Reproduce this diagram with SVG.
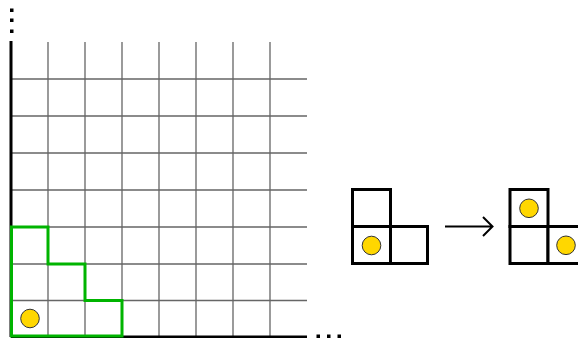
<svg xmlns="http://www.w3.org/2000/svg" width="578" height="338" viewBox="0 0 578 338">
<style>
.grid{stroke:#666;stroke-width:1.3;fill:none}
.axis{stroke:#000;stroke-width:3;fill:none}
.cell{stroke:#000;stroke-width:3;fill:#fff}
.coin{fill:#FFD700;stroke:#333;stroke-width:1}
.dot{fill:#000}
</style>
<rect width="578" height="338" fill="#fff"/>
<g id="grid">
<path class="grid" d="M48 42V337M85 42V337M122 42V337M159 42V337M196 42V337M233 42V337M270 42V337"/>
<path class="grid" d="M11 79H307M11 116H307M11 153H307M11 190H307M11 227H307M11 264H307M11 300.5H307"/>
<path class="axis" d="M11 41V337M11 337H307"/>
<rect class="dot" x="10" y="8.5" width="3.5" height="3.5"/>
<rect class="dot" x="10" y="18.5" width="3.5" height="3.5"/>
<rect class="dot" x="10" y="29.5" width="3.5" height="3.5"/>
<rect class="dot" x="316.5" y="334.5" width="3.5" height="3.5"/>
<rect class="dot" x="327" y="334.5" width="3.5" height="3.5"/>
<rect class="dot" x="337.5" y="334.5" width="3.5" height="3.5"/>
<path d="M11.5 227H48V264H85V300.5H122V336H11.5Z" fill="none" stroke="#00B400" stroke-width="3"/>
<circle class="coin" cx="30" cy="318.5" r="9.3"/>
</g>
<g id="left-shape">
<rect class="cell" x="352.5" y="189.5" width="38" height="37"/>
<rect class="cell" x="352.5" y="226.5" width="38" height="37"/>
<rect class="cell" x="390.5" y="226.5" width="37" height="37"/>
<circle class="coin" cx="371.5" cy="245.5" r="9.3"/>
</g>
<g id="connectors">
<path d="M445 226.5H492M483 217L492.5 226.5L483 236" fill="none" stroke="#000" stroke-width="2"/>
</g>
<g id="right-shape">
<rect class="cell" x="510" y="189.5" width="38" height="37"/>
<rect class="cell" x="510" y="226.5" width="38" height="37"/>
<rect class="cell" x="548" y="226.5" width="37" height="37"/>
<circle class="coin" cx="529" cy="208.3" r="9.3"/>
<circle class="coin" cx="566" cy="245.3" r="9.3"/>
</g>
</svg>
